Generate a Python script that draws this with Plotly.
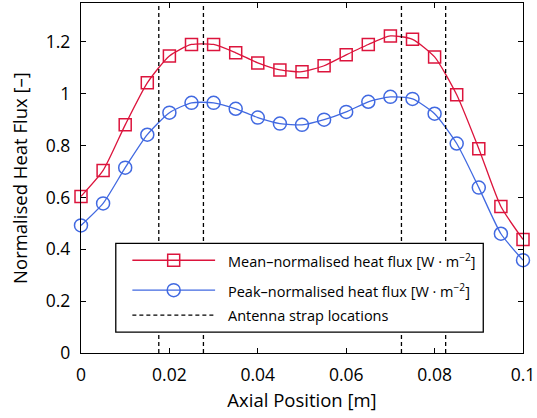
import plotly.graph_objects as go

x_pos = [0, 0.005, 0.01, 0.015, 0.02, 0.025, 0.03, 0.035, 0.04, 0.045, 0.05,
         0.055, 0.06, 0.065, 0.07, 0.075, 0.08, 0.085, 0.09, 0.095, 0.1]
mean_norm = [0.604, 0.704, 0.88, 1.042, 1.146, 1.19, 1.19, 1.158, 1.119, 1.092, 1.085,
             1.108, 1.15, 1.19, 1.223, 1.21, 1.142, 0.996, 0.788, 0.565, 0.438]
peak_norm = [0.492, 0.577, 0.715, 0.842, 0.927, 0.965, 0.965, 0.942, 0.908, 0.885, 0.88,
             0.90, 0.93, 0.969, 0.988, 0.98, 0.923, 0.808, 0.638, 0.46, 0.358]
strap_x = [0.0176, 0.0277, 0.0725, 0.0825]
y_range = [0, 1.35]
y_ticks = [0, 0.2, 0.4, 0.6, 0.8, 1.0, 1.2]
y_ticktext = ["0", "0.2", "0.4", "0.6", "0.8", "1", "1.2"]
x_ticks = [0, 0.02, 0.04, 0.06, 0.08, 0.1]
x_ticktext = ["0", "0.02", "0.04", "0.06", "0.08", "0.1"]
legend_labels = [
    "Mean\u2013normalised heat flux [W \u00b7 m<sup>\u22122</sup>]",
    "Peak\u2013normalised heat flux [W \u00b7 m<sup>\u22122</sup>]",
    "Antenna strap locations",
]

RED = "#DC143C"
BLUE = "#4169E1"
FONT = "Open Sans"

fig = go.Figure()

fig.add_trace(go.Scatter(
    x=x_pos, y=mean_norm, mode="lines+markers", cliponaxis=False,
    name=legend_labels[0],
    line=dict(color=RED, width=1.3, shape="spline", smoothing=0.6),
    marker=dict(symbol="square-open", size=12, color=RED, line=dict(width=1.5, color=RED)),
))
fig.add_trace(go.Scatter(
    x=x_pos, y=peak_norm, mode="lines+markers", cliponaxis=False,
    name=legend_labels[1],
    line=dict(color=BLUE, width=1.3, shape="spline", smoothing=0.6),
    marker=dict(symbol="circle-open", size=13, color=BLUE, line=dict(width=1.5, color=BLUE)),
))

sx, sy = [], []
for s in strap_x:
    sx += [s, s, None]
    sy += [y_range[0], y_range[1], None]
fig.add_trace(go.Scatter(
    x=sx, y=sy, mode="lines", name=legend_labels[2],
    line=dict(color="black", width=1.3, dash="4px,3px"),
))

axis_common = dict(
    showline=True, linecolor="black", linewidth=1.3, mirror="ticks",
    ticks="inside", ticklen=5, tickwidth=1, tickcolor="black",
    showgrid=False, zeroline=False, ticklabeloverflow="allow",
    tickfont=dict(family=FONT, size=17.5, color="black"),
    title_font=dict(family=FONT, size=18.5, color="black"),
)

fig.update_xaxes(range=[0, 0.1], tickvals=x_ticks, ticktext=x_ticktext,
                 ticklabelstandoff=6,
                 title_text="Axial Position [m]", title_standoff=8, **axis_common)
fig.update_yaxes(range=y_range, tickvals=y_ticks, ticktext=y_ticktext,
                 ticklabelstandoff=6,
                 title_text="Normalised Heat Flux [\u2013]", title_standoff=13, **axis_common)

# ---- manual legend box (paper coordinates of the plot area) ----
box = dict(x0=0.0787, x1=0.9101, y0=0.0598, y1=0.3134)
rows_y = [0.265, 0.1795, 0.1083]
line_x = (0.1162, 0.3034)
sym_x = 0.2097
text_x = 0.328
CLEAR = "rgba(0,0,0,0)"

shapes = [dict(type="rect", xref="paper", yref="paper", layer="above",
               fillcolor="white", line=dict(color="black", width=1.3), **box)]
styles = [dict(color=RED, width=1.3), dict(color=BLUE, width=1.3),
          dict(color="black", width=1.3, dash="4px,3px")]
for ry, st in zip(rows_y, styles):
    shapes.append(dict(type="line", xref="paper", yref="paper", layer="above",
                       x0=line_x[0], x1=line_x[1], y0=ry, y1=ry, line=st))
shapes.append(dict(type="rect", xref="paper", yref="paper", layer="above",
                   xsizemode="pixel", ysizemode="pixel", xanchor=sym_x, yanchor=rows_y[0],
                   x0=-6, x1=6, y0=-6, y1=6, fillcolor=CLEAR,
                   line=dict(color=RED, width=1.5)))
shapes.append(dict(type="circle", xref="paper", yref="paper", layer="above",
                   xsizemode="pixel", ysizemode="pixel", xanchor=sym_x, yanchor=rows_y[1],
                   x0=-6.5, x1=6.5, y0=-6.5, y1=6.5, fillcolor=CLEAR,
                   line=dict(color=BLUE, width=1.5)))

annotations = [dict(text=lab, xref="paper", yref="paper", x=text_x, y=ry,
                    xanchor="left", yanchor="middle", showarrow=False,
                    font=dict(family=FONT, size=14.5, color="black"))
               for lab, ry in zip(legend_labels, rows_y)]

fig.update_layout(
    width=537, height=418,
    margin=dict(l=81, r=11, t=2, b=65),
    plot_bgcolor="white", paper_bgcolor="white",
    font=dict(family=FONT, size=15, color="black"),
    showlegend=False,
    shapes=shapes,
    annotations=annotations,
)

fig.write_html("out.html")
